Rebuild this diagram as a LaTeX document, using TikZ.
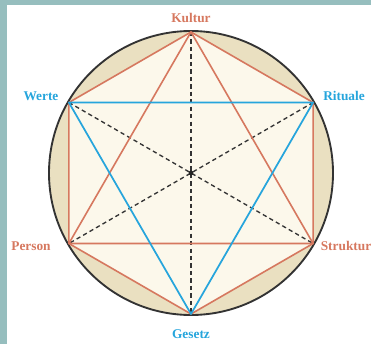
\documentclass[tikz,border=0pt]{standalone}
\usepackage{fontspec}
\setmainfont{Liberation Serif}
\usepackage{tikz}
\usetikzlibrary{calc,positioning}
\definecolor{frameTeal}{RGB}{150,190,190}
\definecolor{ringTan}{RGB}{234,224,193}
\definecolor{hexCream}{RGB}{252,248,235}
\definecolor{lineRed}{RGB}{214,120,95}
\definecolor{lineBlue}{RGB}{38,165,220}

\begin{document}
\begin{tikzpicture}[x=0.75pt,y=0.75pt,
  lbl/.style={font=\bfseries,inner sep=0pt},
  redln/.style={draw=lineRed,line width=1.2pt,line join=round},
  blueln/.style={draw=lineBlue,line width=1.3pt,line join=round},
  diam/.style={draw=black!80,line width=1pt,dash pattern=on 3.2pt off 2.4pt}
]
  \useasboundingbox (0,0) rectangle (371,344);
  \fill[frameTeal] (0,339) rectangle (371,344);
  \fill[frameTeal] (0,0) rectangle (7,344);

  \coordinate (c) at (191,171);
  \coordinate (ku) at ($(c)+(90:141)$);
  \coordinate (ri) at ($(c)+(30:141)$);
  \coordinate (st) at ($(c)+(-30:141)$);
  \coordinate (ge) at ($(c)+(-90:141)$);
  \coordinate (pe) at ($(c)+(210:141)$);
  \coordinate (we) at ($(c)+(150:141)$);

  % circle and hexagon
  \draw[fill=ringTan,draw=black!80,line width=1.4pt] (c) circle (142);
  \fill[hexCream] (ku)--(ri)--(st)--(ge)--(pe)--(we)--cycle;

  % dashed diameters
  \draw[diam] (ku)--(ge);
  \draw[diam] (we)--(st);
  \draw[diam] (ri)--(pe);
  \fill[black!85] (c) circle (2.4);

  % red hexagon and triangle
  \draw[redln] (ku)--(ri)--(st)--(ge)--(pe)--(we)--cycle;
  \draw[redln] (ku)--(st)--(pe)--cycle;
  % blue triangle
  \draw[blueln] (we)--(ri)--(ge)--cycle;

  \node[lbl,text=lineRed]  (nku) at (191,326) {Kultur};
  \node[lbl,text=lineBlue] (nwe) at (41,248)  {Werte};
  \node[lbl,text=lineBlue] (nri) at (344,248) {Rituale};
  \node[lbl,text=lineRed]  (npe) at (31,98)   {Person};
  \node[lbl,text=lineRed]  (nst) at (346,98)  {Struktur};
  \node[lbl,text=lineBlue] (nge) at (191,10)  {Gesetz};
\end{tikzpicture}
\end{document}
